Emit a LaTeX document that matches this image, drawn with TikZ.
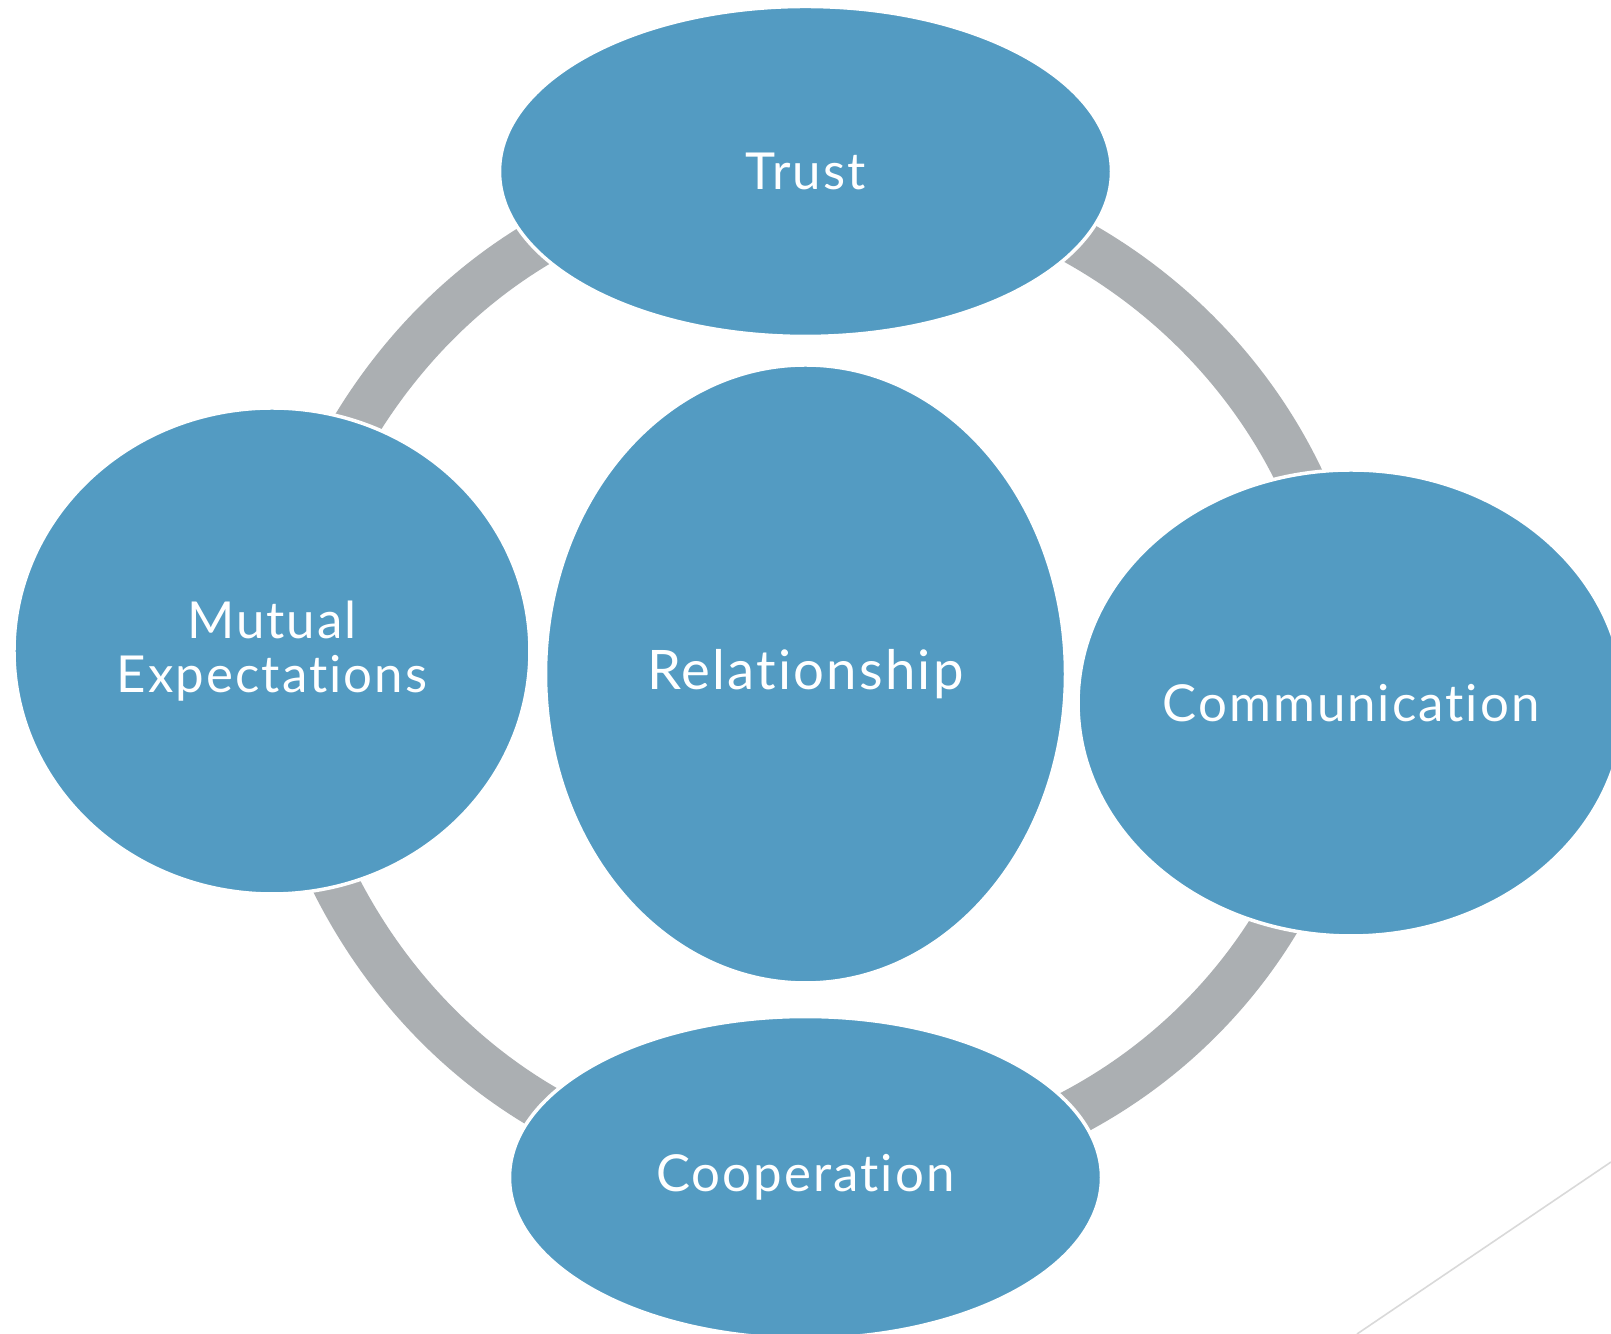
\documentclass[tikz,border=0pt]{standalone}
\usepackage{fontspec}
\usepackage{xcolor}
\usepackage{tikz}
\usetikzlibrary{shapes.geometric}
\usetikzlibrary{positioning}
\usetikzlibrary{backgrounds}
\newfontfamily\blobfont[LetterSpace=4, Ligatures=NoCommon]{Lato}
\definecolor{blobblue}{RGB}{83,155,194}
\definecolor{ringgray}{RGB}{171,175,178}
\definecolor{slidegray}{RGB}{217,217,217}

\begin{document}
\begin{tikzpicture}

                \def\n{.25cm}
                \def\s{.3cm}
                \def\w{.12cm}
                \def\e{.09cm}

                % Shared look of the five ellipses
                \tikzset{blob/.style={ellipse, fill=blobblue, draw=white,
                    line width=1pt, inner sep=0pt, text=white,
                    font=\blobfont\fontsize{14.5}{15.5}\selectfont,
                    align=center}}

                \useasboundingbox (0, 0) rectangle (16.11, 13.34);

                % Scope used for the ellipses, placed round the centre one
                \begin{scope}

                    \node[blob, minimum width=5.2cm, minimum height=6.18cm,
                    font=\blobfont\fontsize{15.5}{16.5}\selectfont]
                    (rel) at (8.055, 6.6) {Relationship};
                    \node[blob, minimum width=6.12cm, minimum height=3.3cm]
                    (trust) [above=\n of rel] {Trust};
                    \node[blob, minimum width=5.92cm, minimum height=3.22cm]
                    (coop) [below=\s of rel] {Cooperation};
                    \node[blob, minimum width=5.16cm, minimum height=4.86cm]
                    (mutual) [left=\w of rel, yshift=.23cm]
                    {Mutual\\Expectations};
                    \node[blob, minimum width=5.46cm, minimum height=4.66cm]
                    (comm) [right=\e of rel, yshift=-.29cm] {Communication};
                \end{scope}

                \begin{pgfonlayer}{background}
                    \fill[white] (0, 0) rectangle (16.11, 13.34);
                    \begin{scope}[ringgray, line width=.47cm]
                        \draw (trust.center) to[out=0, in=90] (comm.center);
                        \draw (comm.center) to[out=-97, in=0] (coop.center);
                        \draw (coop.center) to[out=180, in=-86] (mutual.center);
                        \draw (mutual.center) to[out=80, in=180] (trust.center);
                    \end{scope}
                \end{pgfonlayer}

                % thin line of the slide in the corner
                \draw[slidegray, line width=.45pt] (16.11, 1.72) -- (13.57, 0);

\end{tikzpicture}
\end{document}
